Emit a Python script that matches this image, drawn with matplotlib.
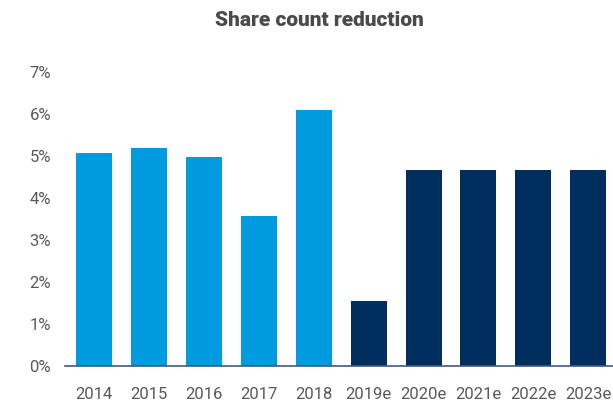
import matplotlib
matplotlib.use("Agg")
import matplotlib.pyplot as plt
from matplotlib.ticker import FuncFormatter

# data
years = ["2014", "2015", "2016", "2017", "2018",
         "2019e", "2020e", "2021e", "2022e", "2023e"]
reduction = [5.07, 5.19, 4.98, 3.57, 6.10, 1.55, 4.67, 4.67, 4.67, 4.67]
is_estimate = [False, False, False, False, False, True, True, True, True, True]

light_blue = "#009ADE"
navy = "#002F5F"
text_gray = "#595959"

plt.rcParams["font.family"] = ["Roboto", "DejaVu Sans"]

fig = plt.figure(figsize=(6.13, 4.03), dpi=100)
ax = fig.add_axes([65 / 613, 37 / 403, 548 / 613, 294 / 403])

colors = [navy if e else light_blue for e in is_estimate]
x = range(len(years))
ax.bar(x, reduction, width=0.655, color=colors, zorder=2)

ax.set_xlim(-0.53, 9.45)
ax.set_ylim(0, 7)
ax.set_yticks(range(0, 8))
ax.yaxis.set_major_formatter(FuncFormatter(lambda v, p: f"{int(v)}%"))
ax.set_xticks(list(x))
ax.set_xticklabels(years)

for side in ["top", "right", "left"]:
    ax.spines[side].set_visible(False)
ax.spines["bottom"].set_color("#3b5b82")
ax.spines["bottom"].set_linewidth(1.2)
ax.spines["bottom"].set_zorder(3)

ax.tick_params(axis="both", length=0, labelsize=12, colors=text_gray)
ax.tick_params(axis="x", pad=15)
ax.tick_params(axis="y", pad=10)

fig.text(319 / 613, 1 - 20 / 403, "Share count reduction", ha="center", va="center",
         fontsize=15, fontweight=900, color="#4a4a4a")

fig.savefig("out.png", dpi=100)
